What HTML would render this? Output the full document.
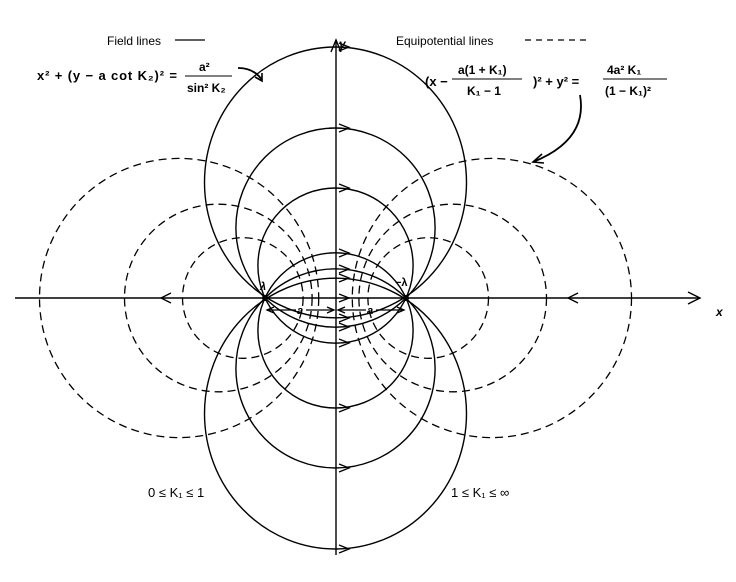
<!DOCTYPE html>
<html><head><meta charset="utf-8"><style>
html,body{margin:0;padding:0;background:#fff;}
svg{display:block;}
text{font-family:"Liberation Sans",sans-serif;fill:#000;}
</style></head><body>
<svg width="736" height="582" viewBox="0 0 736 582" xmlns="http://www.w3.org/2000/svg">
<g fill="none" stroke="#000" stroke-width="1.4">
<line x1="15" y1="298" x2="700" y2="298"/>
<polyline points="688,292 700,298 688,304"/>
<line x1="336" y1="555" x2="336" y2="40"/>
<polyline points="331,52 336,40 341,52"/>
<ellipse cx="335.5" cy="182.4" rx="131" ry="135.4"/>
<circle cx="335.5" cy="227.6" r="99.6"/>
<circle cx="335.5" cy="265.6" r="77.6"/>
<ellipse cx="335.5" cy="413.6" rx="131" ry="135.4"/>
<circle cx="335.5" cy="368.4" r="99.6"/>
<circle cx="335.5" cy="330.4" r="77.6"/>
</g>
<g fill="none" stroke="#000" stroke-width="1.3" stroke-dasharray="8,5">
<circle cx="179.1" cy="298" r="139.6"/>
<circle cx="218.3" cy="298" r="93.8"/>
<circle cx="242.8" cy="298" r="60.3"/>
<circle cx="491.9" cy="298" r="139.6"/>
<circle cx="452.7" cy="298" r="93.8"/>
<circle cx="428.2" cy="298" r="60.3"/>
</g>
<g fill="none" stroke="#000" stroke-width="1.3">
<polyline points="339,43 349,47 339,51"/>
<polyline points="339,124 349,128 339,132"/>
<polyline points="339,184 349,188 339,192"/>
<polyline points="339,249 349,253 339,257"/>
<polyline points="339,265 349,269 339,273"/>
<polyline points="339,274 349,278 339,282"/>
<polyline points="339,294 349,298 339,302"/>
<polyline points="339,314 349,318 339,322"/>
<polyline points="339,323 349,327 339,331"/>
<polyline points="339,339 349,343 339,347"/>
<polyline points="339,404 349,408 339,412"/>
<polyline points="339,464 349,468 339,472"/>
<polyline points="339,545 349,549 339,553"/>
<polyline points="171,293 161,298 171,303"/>
<polyline points="578,293 568,298 578,303"/>
<line x1="267" y1="310" x2="296" y2="310"/>
<polyline points="274,307 267,310 274,313"/>
<line x1="306" y1="310" x2="334" y2="310"/>
<polyline points="327,307 334,310 327,313"/>
<line x1="338" y1="310" x2="366" y2="310"/>
<polyline points="345,307 338,310 345,313"/>
<line x1="376" y1="310" x2="404" y2="310"/>
<polyline points="397,307 404,310 397,313"/>
<path d="M238,68 Q254,68 262,80" stroke-width="1.8"/>
<polyline points="255,77 262,81 262,73" stroke-width="1.6"/>
<path d="M580,95 Q588,140 533,162" stroke-width="1.8"/>
<polyline points="542,154 533,162 544,163" stroke-width="1.6"/>
<line x1="175" y1="40" x2="205" y2="40"/>
<line x1="525" y1="40" x2="588" y2="40" stroke-dasharray="6,5"/>
</g>
<circle cx="265" cy="298" r="3" fill="#000"/>
<circle cx="406" cy="298" r="3" fill="#000"/>
<g font-weight="bold">
<text x="339" y="48" font-style="italic" font-size="12">y</text>
<text x="716" y="316" font-style="italic" font-size="12">x</text>
<text x="260" y="290" font-style="italic" font-size="11">λ</text>
<text x="395" y="286" font-size="11">−λ</text>
<text x="297" y="314" font-style="italic" font-size="11">a</text>
<text x="367" y="314" font-style="italic" font-size="11">a</text>
<text x="107" y="45" font-size="12" font-weight="normal">Field lines</text>
<text x="396" y="45" font-size="12" font-weight="normal">Equipotential lines</text>
<text x="37" y="80" font-size="13" textLength="140">x² + (y − a cot K₂)² =</text>
<text x="199" y="71" font-size="12">a²</text>
<line x1="185" y1="76" x2="232" y2="76" stroke="#000" stroke-width="1"/>
<text x="187" y="92" font-size="12">sin² K₂</text>
<text x="425" y="86" font-size="13">(x −</text>
<text x="458" y="74" font-size="12">a(1 + K₁)</text>
<line x1="452" y1="79" x2="522" y2="79" stroke="#000" stroke-width="1"/>
<text x="467" y="95" font-size="12">K₁ − 1</text>
<text x="533" y="86" font-size="13">)² + y² =</text>
<text x="607" y="74" font-size="12">4a² K₁</text>
<line x1="603" y1="79" x2="667" y2="79" stroke="#000" stroke-width="1"/>
<text x="605" y="95" font-size="12">(1 − K₁)²</text>
<text x="148" y="497" font-size="13" font-weight="normal">0 ≤ K₁ ≤ 1</text>
<text x="451" y="497" font-size="13" font-weight="normal">1 ≤ K₁ ≤ ∞</text>
</g>
</svg>
</body></html>
